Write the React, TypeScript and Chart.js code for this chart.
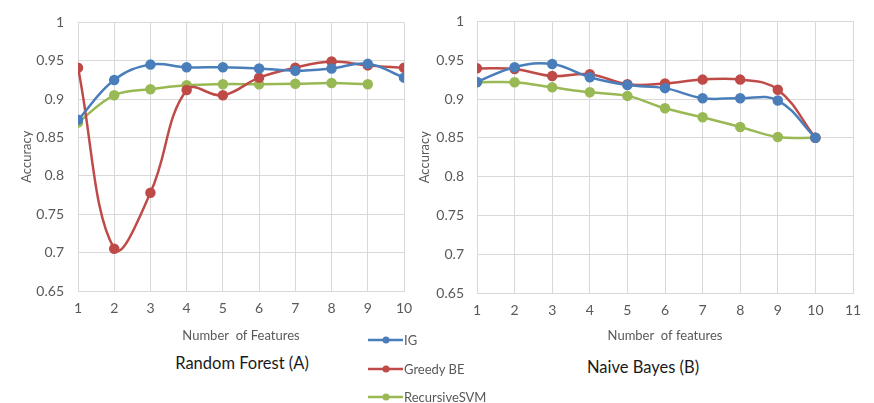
import React, { useEffect, useRef } from "react";
import { Chart, registerables } from "chart.js";

Chart.register(...registerables);

// ---- data ----
const features = [1, 2, 3, 4, 5, 6, 7, 8, 9, 10];
const seriesNames = ["IG", "Greedy BE", "RecursiveSVM"];
const seriesColors = ["#4A7EBB", "#BE4B48", "#98B954"];

// Random Forest (A)
const rfIG = [0.873, 0.925, 0.945, 0.9415, 0.9415, 0.94, 0.937, 0.94, 0.946, 0.928];
const rfGreedy = [0.941, 0.705, 0.778, 0.912, 0.905, 0.928, 0.941, 0.949, 0.944, 0.941];
const rfSVM = [0.8695, 0.905, 0.913, 0.918, 0.9195, 0.9195, 0.92, 0.921, 0.9195];

// Naive Bayes (B)
const nbIG = [0.922, 0.941, 0.945, 0.928, 0.918, 0.914, 0.901, 0.901, 0.898, 0.85];
const nbGreedy = [0.9395, 0.9387, 0.9296, 0.932, 0.919, 0.92, 0.925, 0.925, 0.912, 0.85];
const nbSVM = [0.9215, 0.9215, 0.915, 0.9086, 0.904, 0.888, 0.8765, 0.864, 0.851, 0.85];

const yMin = 0.65;
const yMax = 1;
const yStep = 0.05;

const FONT = "Lato, 'Open Sans', sans-serif";
const GRID = "#D9D9D9";
const TICK = "#595959";

type Cfg = {
  series: number[][];
  xMax: number;
  xTitle: string;
  yAxisWidth: number;
  xAxisHeight: number;
  padTop: number;
  padRight: number;
  yTitlePad: number;
  yTickPad: number;
};

function makeChart(canvas: HTMLCanvasElement, cfg: Cfg) {
  return new Chart(canvas, {
    type: "line",
    data: {
      datasets: cfg.series.map((vals, i) => ({
        label: seriesNames[i],
        data: vals.map((v, j) => ({ x: features[j], y: v })),
        borderColor: seriesColors[i],
        backgroundColor: seriesColors[i],
        pointBackgroundColor: seriesColors[i],
        pointBorderColor: seriesColors[i],
        borderWidth: 2.5,
        pointRadius: 4,
        tension: 0.4,
        fill: false,
      })),
    },
    options: {
      animation: false,
      responsive: false,
      maintainAspectRatio: false,
      layout: { padding: { top: cfg.padTop, right: cfg.padRight, left: 0, bottom: 0 } },
      plugins: { legend: { display: false }, tooltip: { enabled: false }, title: { display: false } },
      scales: {
        x: {
          type: "linear",
          min: 1,
          max: cfg.xMax,
          afterFit: (s: any) => {
            s.height = cfg.xAxisHeight;
          },
          ticks: {
            stepSize: 1,
            color: TICK,
            padding: 9,
            font: { family: FONT, size: 14 },
          },
          grid: { color: GRID, lineWidth: 1, drawTicks: false },
          border: { color: GRID },
          title: {
            display: true,
            text: cfg.xTitle,
            color: TICK,
            font: { family: FONT, size: 13 },
            padding: { top: 0, bottom: 1 },
          },
        },
        y: {
          min: yMin,
          max: yMax,
          afterFit: (s: any) => {
            s.width = cfg.yAxisWidth;
          },
          ticks: {
            stepSize: yStep,
            color: TICK,
            padding: cfg.yTickPad,
            font: { family: FONT, size: 14 },
            callback: (v: any) => String(Number(Number(v).toFixed(2))),
          },
          grid: { color: GRID, lineWidth: 1, drawTicks: false },
          border: { color: GRID },
          title: {
            display: true,
            text: "Accuracy",
            color: TICK,
            font: { family: FONT, size: 13 },
            padding: { top: cfg.yTitlePad, bottom: 0 },
          },
        },
      },
    },
  } as any);
}

function LegendRow({ color, label, top }: { color: string; label: string; top: number }) {
  return (
    <div style={{ position: "absolute", left: 368, top: top - 10, height: 20, display: "flex", alignItems: "center" }}>
      <svg width={35} height={20} style={{ display: "block" }}>
        <line x1={0} y1={10} x2={35} y2={10} stroke={color} strokeWidth={2.5} />
        <circle cx={18} cy={10} r={3.5} fill={color} />
      </svg>
      <span style={{ fontFamily: FONT, fontSize: 13, color: TICK, marginLeft: 1 }}>{label}</span>
    </div>
  );
}

export default function App() {
  const leftRef = useRef<HTMLCanvasElement>(null);
  const rightRef = useRef<HTMLCanvasElement>(null);

  useEffect(() => {
    const c1 = makeChart(leftRef.current!, {
      series: [rfIG, rfGreedy, rfSVM],
      xMax: 10,
      xTitle: "Number  of Features",
      yAxisWidth: 78,
      xAxisHeight: 54,
      padTop: 16,
      padRight: 36,
      yTitlePad: 19,
      yTickPad: 14,
    });
    const c2 = makeChart(rightRef.current!, {
      series: [nbIG, nbGreedy, nbSVM],
      xMax: 11,
      xTitle: "Number  of features",
      yAxisWidth: 77,
      xAxisHeight: 52,
      padTop: 21,
      padRight: 21,
      yTitlePad: 17,
      yTickPad: 13,
    });
    return () => {
      c1.destroy();
      c2.destroy();
    };
  }, []);

  return (
    <div style={{ position: "absolute", left: 0, top: 0, width: 874, height: 403, background: "#fff", overflow: "hidden" }}>
      <canvas ref={leftRef} width={440} height={345} style={{ position: "absolute", left: 0, top: 0, width: 440, height: 345 }} />
      <canvas ref={rightRef} width={474} height={345} style={{ position: "absolute", left: 400, top: 0, width: 474, height: 345 }} />
      <div style={{ position: "absolute", left: 142, width: 200, top: 352, textAlign: "center", fontFamily: FONT, fontSize: 16.5, color: "#1a1a1a", lineHeight: "22px" }}>
        Random Forest (A)
      </div>
      <div style={{ position: "absolute", left: 543, width: 200, top: 356, textAlign: "center", fontFamily: FONT, fontSize: 16.5, color: "#1a1a1a", lineHeight: "22px" }}>
        Naive Bayes (B)
      </div>
      {seriesNames.map((n, i) => (
        <LegendRow key={n} color={seriesColors[i]} label={n} top={340 + i * 28.5} />
      ))}
    </div>
  );
}
